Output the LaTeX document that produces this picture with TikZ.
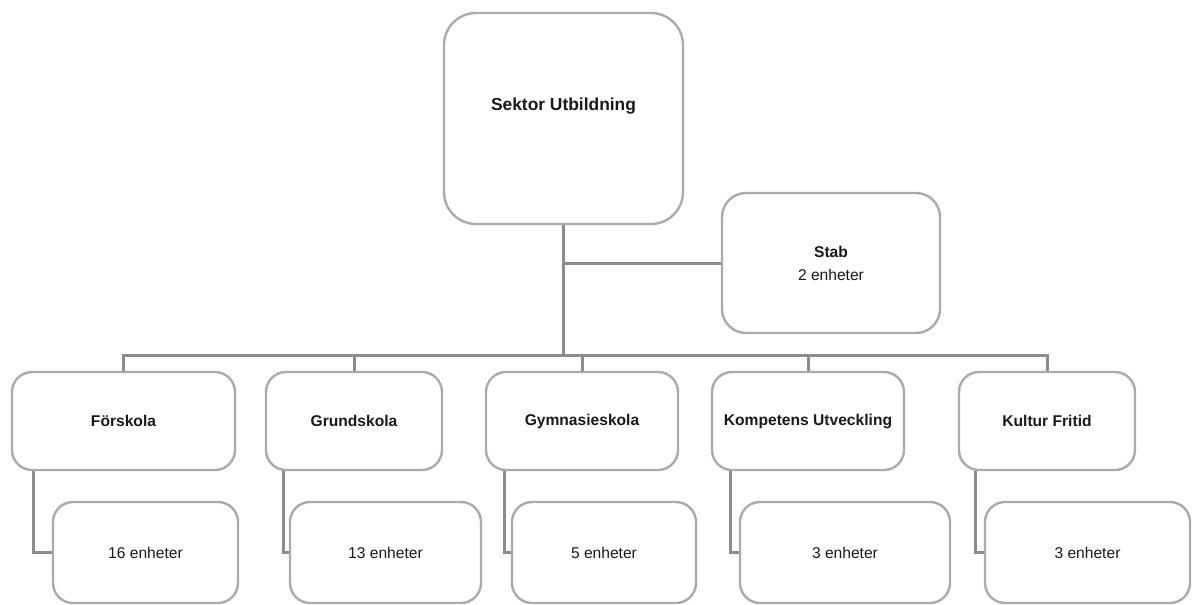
\documentclass[tikz,border=0pt]{standalone}
\usepackage{fontspec}
\setmainfont{Liberation Sans}
\begin{document}
\begin{tikzpicture}[x=1pt,y=-1pt,
  box/.style={draw=black!33,line width=2.4pt,fill=white,rounded corners=#1,inner sep=0pt,align=center,text=black!90},
  box/.default=20pt,
  conn/.style={draw=black!45,line width=3pt},
  bt/.style={font=\fontsize{15.6}{19}\selectfont\bfseries},
  rt/.style={font=\fontsize{15.6}{19}\selectfont}]
\useasboundingbox (0,0) rectangle (1192,605);
% top
\node[box=32pt,minimum width=239pt,minimum height=211pt,
  label={[font=\fontsize{17.4}{20}\selectfont\bfseries,yshift=12.5pt,text=black!90]center:Sektor Utbildning}]
  (top) at (563.5,118.5) {};
\node[box=24pt,minimum width=218pt,minimum height=140pt,font=\fontsize{15.6}{23}\selectfont] (stab) at (831,263)
  {\textbf{Stab}\\2 enheter};
\coordinate (bus) at (563.5,355);
% level 2
\node[box,bt,minimum width=223pt,minimum height=98pt] (f) at (123.5,421) {Förskola};
\node[box,bt,minimum width=176pt,minimum height=98pt] (g) at (354,421) {Grundskola};
\node[box,bt,minimum width=192pt,minimum height=98pt] (gy) at (582,421) {Gymnasieskola};
\node[box,bt,minimum width=192pt,minimum height=98pt] (k) at (808,421) {Kompetens Utveckling};
\node[box,bt,minimum width=176pt,minimum height=98pt] (kf) at (1047,421) {Kultur Fritid};
% children
\node[box,rt,minimum width=185pt,minimum height=101pt] (fc) at (145.5,552.5) {16 enheter};
\node[box,rt,minimum width=191pt,minimum height=101pt] (gc) at (385.5,552.5) {13 enheter};
\node[box,rt,minimum width=184pt,minimum height=101pt] (gyc) at (604,552.5) {5 enheter};
\node[box,rt,minimum width=210pt,minimum height=101pt] (kc) at (845,552.5) {3 enheter};
\node[box,rt,minimum width=205pt,minimum height=101pt] (kfc) at (1087.5,552.5) {3 enheter};
% connectors
\draw[conn] (top.south) -- (bus);
\draw[conn] (top.south |- stab.west) -- (stab.west);
\foreach \n in {f,g,gy,k,kf} \draw[conn] (bus) -| (\n.north);
\draw[conn] ([xshift=23pt]f.south west) |- (fc.west);
\draw[conn] ([xshift=19pt]g.south west) |- (gc.west);
\draw[conn] ([xshift=20pt]gy.south west) |- (gyc.west);
\draw[conn] ([xshift=20pt]k.south west) |- (kc.west);
\draw[conn] ([xshift=18pt]kf.south west) |- (kfc.west);
\end{tikzpicture}
\end{document}
